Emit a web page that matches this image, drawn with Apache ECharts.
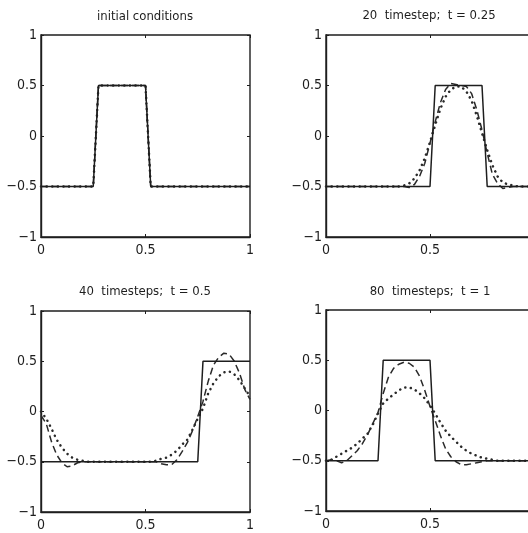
<!DOCTYPE html>
<html><head><meta charset="utf-8">
<script src="https://cdn.jsdelivr.net/npm/echarts@6/dist/echarts.min.js"></script>
<style>html,body{margin:0;padding:0;background:#fff}#c{width:528px;height:533px}</style>
</head><body><div id="c"></div>
<script>
const xs = [0,0.025,0.05,0.075,0.1,0.125,0.15,0.175,0.2,0.225,0.25,0.275,0.3,0.325,0.35,0.375,0.4,0.425,0.45,0.475,0.5,0.525,0.55,0.575,0.6,0.625,0.65,0.675,0.7,0.725,0.75,0.775,0.8,0.825,0.85,0.875,0.9,0.925,0.95,0.975,1];

const titles = ['initial conditions', '20  timestep;  t = 0.25', '40  timesteps;  t = 0.5', '80  timesteps;  t = 1'];
const xTicks = [0, 0.5, 1];
const yTicks = [-1, -0.5, 0, 0.5, 1];

// initial conditions (exact, dashed scheme, dotted scheme identical)
const init = [-0.5,-0.5,-0.5,-0.5,-0.5,-0.5,-0.5,-0.5,-0.5,-0.5,-0.5,0.5,0.5,0.5,0.5,0.5,0.5,0.5,0.5,0.5,0.5,-0.5,-0.5,-0.5,-0.5,-0.5,-0.5,-0.5,-0.5,-0.5,-0.5,-0.5,-0.5,-0.5,-0.5,-0.5,-0.5,-0.5,-0.5,-0.5,-0.5];

// t = 0.25
const exact25 = [-0.5,-0.5,-0.5,-0.5,-0.5,-0.5,-0.5,-0.5,-0.5,-0.5,-0.5,-0.5,-0.5,-0.5,-0.5,-0.5,-0.5,-0.5,-0.5,-0.5,-0.5,0.5,0.5,0.5,0.5,0.5,0.5,0.5,0.5,0.5,0.5,-0.5,-0.5,-0.5,-0.5,-0.5,-0.5,-0.5,-0.5,-0.5,-0.5];
const dashed25 = [-0.5,-0.5,-0.5,-0.5,-0.5,-0.5,-0.5,-0.5,-0.5,-0.5,-0.5,-0.5,-0.5,-0.5,-0.5,-0.5,-0.51,-0.48,-0.4,-0.27,-0.07,0.14,0.33,0.46,0.52,0.51,0.5,0.49,0.42,0.26,0.06,-0.17,-0.38,-0.47,-0.52,-0.51,-0.5,-0.5,-0.5,-0.5,-0.5];
const dotted25 = [-0.5,-0.5,-0.5,-0.5,-0.5,-0.5,-0.5,-0.5,-0.5,-0.5,-0.5,-0.5,-0.5,-0.5,-0.5,-0.49,-0.47,-0.42,-0.34,-0.22,-0.06,0.11,0.27,0.39,0.46,0.49,0.49,0.44,0.35,0.2,0.03,-0.14,-0.29,-0.4,-0.46,-0.48,-0.49,-0.5,-0.5,-0.5,-0.5];

// t = 0.5
const exact50 = [-0.5,-0.5,-0.5,-0.5,-0.5,-0.5,-0.5,-0.5,-0.5,-0.5,-0.5,-0.5,-0.5,-0.5,-0.5,-0.5,-0.5,-0.5,-0.5,-0.5,-0.5,-0.5,-0.5,-0.5,-0.5,-0.5,-0.5,-0.5,-0.5,-0.5,-0.5,0.5,0.5,0.5,0.5,0.5,0.5,0.5,0.5,0.5,0.5];
const dashed50 = [-0.04,-0.12,-0.3,-0.43,-0.51,-0.55,-0.54,-0.51,-0.5,-0.5,-0.5,-0.5,-0.5,-0.5,-0.5,-0.5,-0.5,-0.5,-0.5,-0.5,-0.5,-0.5,-0.5,-0.52,-0.53,-0.53,-0.48,-0.4,-0.31,-0.19,-0.05,0.1,0.3,0.46,0.54,0.58,0.57,0.5,0.38,0.22,0.12];
const dotted50 = [0.0,-0.07,-0.17,-0.28,-0.36,-0.42,-0.46,-0.48,-0.49,-0.5,-0.5,-0.5,-0.5,-0.5,-0.5,-0.5,-0.5,-0.5,-0.5,-0.5,-0.5,-0.5,-0.49,-0.47,-0.46,-0.43,-0.39,-0.33,-0.28,-0.18,-0.07,0.03,0.18,0.28,0.35,0.39,0.4,0.37,0.31,0.23,0.15];

// t = 1
const exact100 = [-0.5,-0.5,-0.5,-0.5,-0.5,-0.5,-0.5,-0.5,-0.5,-0.5,-0.5,0.5,0.5,0.5,0.5,0.5,0.5,0.5,0.5,0.5,0.5,-0.5,-0.5,-0.5,-0.5,-0.5,-0.5,-0.5,-0.5,-0.5,-0.5,-0.5,-0.5,-0.5,-0.5,-0.5,-0.5,-0.5,-0.5,-0.5,-0.5];
const dashed100 = [-0.5,-0.49,-0.5,-0.52,-0.5,-0.45,-0.4,-0.33,-0.24,-0.13,-0.02,0.17,0.33,0.42,0.46,0.48,0.47,0.43,0.34,0.2,0.04,-0.1,-0.25,-0.38,-0.46,-0.51,-0.54,-0.54,-0.53,-0.52,-0.51,-0.5,-0.5,-0.5,-0.5,-0.5,-0.5,-0.5,-0.5,-0.5,-0.5];
const dotted100 = [-0.5,-0.49,-0.46,-0.43,-0.4,-0.37,-0.33,-0.28,-0.23,-0.14,-0.03,0.07,0.12,0.16,0.2,0.23,0.23,0.21,0.17,0.12,0.05,-0.03,-0.12,-0.2,-0.26,-0.31,-0.36,-0.4,-0.43,-0.45,-0.47,-0.48,-0.49,-0.5,-0.5,-0.5,-0.5,-0.5,-0.5,-0.5,-0.5];

const panels = [
  {exact: init, dashed: init, dotted: init},
  {exact: exact25, dashed: dashed25, dotted: dotted25},
  {exact: exact50, dashed: dashed50, dotted: dotted50},
  {exact: exact100, dashed: dashed100, dotted: dotted100}
];

const FONT = '"DejaVu Sans Condensed","Liberation Sans Narrow","Arial Narrow",sans-serif';
const INK = '#1e1e1e';
const grids = [
  {left: 41, top: 35, width: 209, height: 202},
  {left: 326, top: 35, width: 208, height: 202},
  {left: 41, top: 311, width: 209, height: 201},
  {left: 326, top: 310, width: 208, height: 201}
];
const titlePos = [[145, 10], [429, 9], [145, 285], [430, 285]];

const fmt = v => String(v).replace('-', '\u2212');

const option = {
  animation: false,
  backgroundColor: '#fff',
  title: titles.map((t, i) => ({
    text: t, left: titlePos[i][0], top: titlePos[i][1], textAlign: 'center', padding: 0,
    textStyle: {fontFamily: FONT, fontSize: 13, fontWeight: 'normal', color: INK}
  })),
  grid: grids.map(g => Object.assign({show: true, borderColor: INK, borderWidth: 1.4,
    backgroundColor: '#fff', outerBoundsMode: 'none', containLabel: false}, g)),
  xAxis: [], yAxis: [], series: []
};

grids.forEach((g, i) => {
  const tickStyle = {show: true, inside: true, length: 3, lineStyle: {color: INK, width: 1}};
  option.xAxis.push({
    gridIndex: i, type: 'value', min: 0, max: 1, interval: 0.5, position: 'bottom',
    axisLine: {show: true, onZero: false, lineStyle: {color: INK, width: 1.4}},
    axisTick: tickStyle, splitLine: {show: false},
    axisLabel: {color: INK, fontFamily: FONT, fontSize: 14, margin: 6, formatter: fmt,
      showMinLabel: true, showMaxLabel: true}
  });
  option.xAxis.push({
    gridIndex: i, type: 'value', min: 0, max: 1, interval: 0.5, position: 'top',
    axisLine: {show: false, onZero: false}, axisTick: tickStyle, splitLine: {show: false}, axisLabel: {show: false}
  });
  option.yAxis.push({
    gridIndex: i, type: 'value', min: -1, max: 1, interval: 0.5, position: 'left',
    axisLine: {show: true, onZero: false, lineStyle: {color: INK, width: 1.4}},
    axisTick: tickStyle, splitLine: {show: false},
    axisLabel: {color: INK, fontFamily: FONT, fontSize: 14, margin: 4, formatter: fmt,
      showMinLabel: true, showMaxLabel: true}
  });
  option.yAxis.push({
    gridIndex: i, type: 'value', min: -1, max: 1, interval: 0.5, position: 'right',
    axisLine: {show: false, onZero: false}, axisTick: tickStyle, splitLine: {show: false}, axisLabel: {show: false}
  });
  const p = panels[i];
  const xi = i * 2, yi = i * 2;
  const mk = (ys) => xs.map((x, k) => [x, ys[k]]);
  option.series.push({
    type: 'line', xAxisIndex: xi, yAxisIndex: yi, data: mk(p.dotted), symbol: 'none',
    lineStyle: {color: '#2a2a2a', width: 2.5, type: [0.1, 5.5], cap: 'round'}, z: 2
  });
  option.series.push({
    type: 'line', xAxisIndex: xi, yAxisIndex: yi, data: mk(p.dashed), symbol: 'none',
    lineStyle: {color: '#2a2a2a', width: 1.5, type: [7, 4]}, z: 3
  });
  option.series.push({
    type: 'line', xAxisIndex: xi, yAxisIndex: yi, data: mk(p.exact), symbol: 'none',
    lineStyle: {color: INK, width: 1.5, type: 'solid'}, z: 4
  });
});

const chart = echarts.init(document.getElementById('c'), null, {renderer: 'canvas'});
chart.setOption(option);
</script>
</body></html>
